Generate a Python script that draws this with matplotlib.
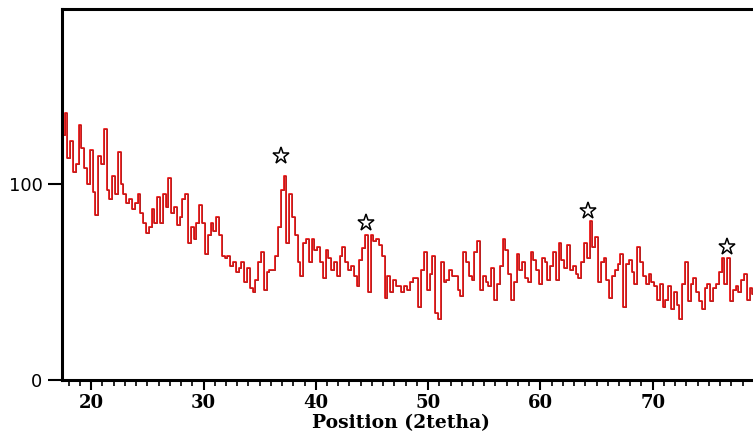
"""XRD pattern with marked reflections, recreated from the reference figure."""
import matplotlib

matplotlib.use("Agg")
import matplotlib.pyplot as plt
import numpy as np

# 2-theta grid: 17.5 .. 79.75 in 0.25 deg steps (250 points)
TWO_THETA_START = 17.5
TWO_THETA_STEP = 0.25

# intensities, one row per 5 degrees
intensity = [
    125, 136, 113, 122, 106, 110, 130, 118, 108, 100, 117, 96, 84, 114, 110, 128, 97, 92, 104, 95,
    116, 100, 95, 90, 92, 87, 90, 95, 85, 80, 75, 78, 87, 80, 93, 80, 95, 88, 103, 85,
    88, 79, 83, 92, 95, 70, 78, 72, 80, 89, 80, 64, 74, 80, 76, 83, 74, 63, 62, 63,
    58, 60, 55, 57, 60, 50, 57, 47, 45, 51, 60, 65, 46, 55, 56, 56, 63, 78, 97, 104,
    70, 95, 83, 74, 60, 53, 70, 72, 60, 72, 66, 68, 60, 52, 66, 62, 56, 60, 53, 63,
    68, 60, 56, 58, 53, 48, 61, 67, 74, 45, 74, 71, 72, 69, 63, 42, 53, 45, 51, 48,
    48, 45, 48, 46, 50, 52, 52, 37, 56, 65, 46, 54, 63, 34, 31, 60, 50, 51, 56, 53,
    53, 46, 43, 65, 60, 53, 51, 65, 71, 46, 53, 50, 48, 57, 41, 49, 58, 72, 66, 54,
    41, 50, 64, 56, 60, 52, 50, 65, 61, 56, 49, 62, 60, 51, 58, 65, 51, 70, 61, 57,
    69, 56, 58, 54, 52, 60, 70, 62, 81, 68, 73, 50, 60, 62, 51, 42, 53, 56, 59, 64,
    37, 59, 61, 55, 49, 68, 60, 53, 49, 54, 50, 48, 41, 49, 37, 41, 48, 36, 45, 38,
    31, 49, 60, 40, 49, 52, 45, 40, 36, 47, 49, 40, 47, 49, 55, 62, 49, 62, 40, 46,
    48, 45, 51, 54, 41, 47, 44, 41, 45, 48,
]

# reflections marked with a star
star_x = [36.9, 44.5, 64.2, 76.6]
star_y = [114, 80, 86, 68]

x_ticks = [20, 30, 40, 50, 60, 70]
y_ticks = [0, 100]

two_theta = TWO_THETA_START + TWO_THETA_STEP * np.arange(len(intensity))

fig = plt.figure(figsize=(7.53, 4.33), dpi=100)
ax = fig.add_axes([62 / 753, 53 / 433, 1 - 62 / 753 + 0.01, 371 / 433])

ax.step(two_theta, intensity, where="mid", color="#f01515", lw=1.3)
ax.step(two_theta, intensity, where="mid", color="#b02020", lw=0.6)
ax.plot(star_x, star_y, linestyle="none", marker="*", markersize=12.5,
        markerfacecolor="white", markeredgecolor="black", markeredgewidth=1.1)

ax.set_xlim(17.4, 79.6)
ax.set_ylim(0, 189)

ax.spines["right"].set_visible(False)
for side in ("left", "top", "bottom"):
    ax.spines[side].set_linewidth(2.2)

ax.set_xticks(x_ticks)
ax.set_xticks(np.arange(18, 80, 1), minor=True)
ax.set_yticks(y_ticks)
ax.tick_params(axis="x", which="major", length=7, width=1.5, pad=3)
ax.tick_params(axis="x", which="minor", length=4, width=1.2)
ax.tick_params(axis="y", which="major", length=10, width=1.5, pad=4)

for label in ax.get_xticklabels():
    label.set_fontfamily("DejaVu Serif")
    label.set_fontweight("bold")
    label.set_fontsize(13)
for label in ax.get_yticklabels():
    label.set_fontfamily("DejaVu Sans")
    label.set_fontsize(13)

ax.set_xlabel("Position (2tetha)", fontfamily="DejaVu Serif", fontweight="bold",
              fontsize=13.5, labelpad=2)
ax.xaxis.set_label_coords((397 - 62) / (753 - 62), -0.093)

fig.savefig("out.png", dpi=100)
